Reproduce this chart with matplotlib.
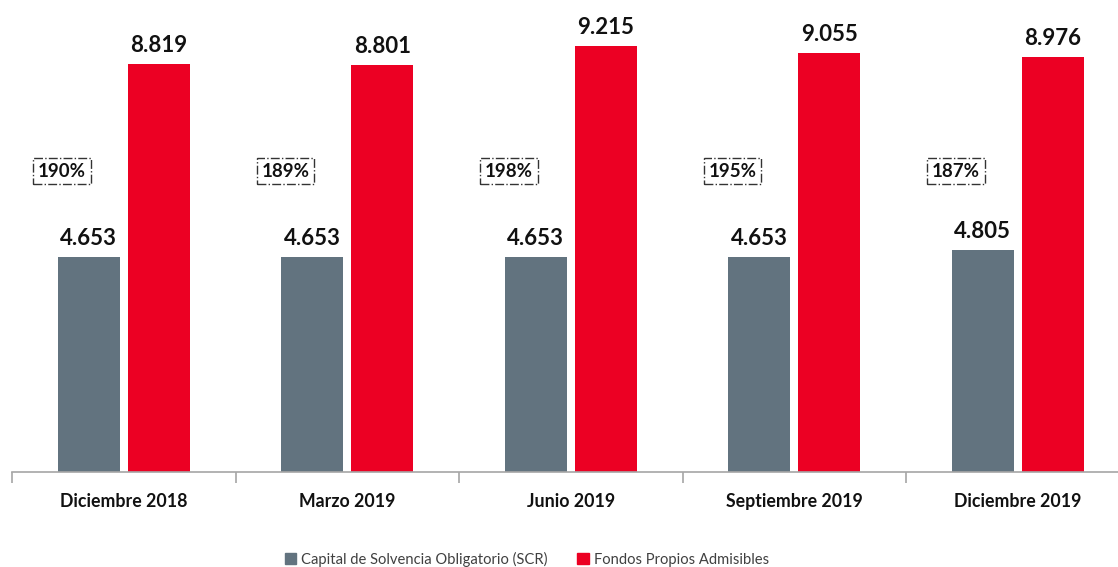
import matplotlib
matplotlib.use("Agg")
import matplotlib.pyplot as plt
import numpy as np
from matplotlib.patches import Patch

categories = ["Diciembre 2018", "Marzo 2019", "Junio 2019", "Septiembre 2019", "Diciembre 2019"]
scr = [4.653, 4.653, 4.653, 4.653, 4.805]
fondos = [8.819, 8.801, 9.215, 9.055, 8.976]
ratios = ["190%", "189%", "198%", "195%", "187%"]
series_names = ["Capital de Solvencia Obligatorio (SCR)", "Fondos Propios Admisibles"]

gray = "#62737F"
red = "#EC0023"

plt.rcParams['font.family'] = ['Lato', 'DejaVu Sans']

W, H = 1118, 567
fig = plt.figure(figsize=(W / 100, H / 100), dpi=100)
# axes: left at x=12, category width 223.5px, baseline at y=472, top at y=0
ax_left = 12 / W
ax_width = 5 * 223.5 / W
ax_bottom = (H - 472) / H
ax_height = 472 / H
ax = fig.add_axes([ax_left, ax_bottom, ax_width, ax_height])

x = np.arange(len(categories))
bw = 0.277
off = 0.157
ax.bar(x - off, scr, bw, color=gray, label=series_names[0])
ax.bar(x + off, fondos, bw, color=red, label=series_names[1])

for xi, v in zip(x, scr):
    ax.text(xi - off, v + 0.17, f"{v:.3f}", ha="center", va="bottom",
            fontsize=16, fontweight="bold", color="#111111")
for xi, v in zip(x, fondos):
    ax.text(xi + off, v + 0.17, f"{v:.3f}", ha="center", va="bottom",
            fontsize=16, fontweight="bold", color="#111111")
for xi, r in zip(x, ratios):
    ax.text(xi - 0.277, 6.5, r, ha="center", va="center",
            fontsize=13.5, fontweight="bold", color="#111111",
            bbox=dict(boxstyle="square,pad=0.25", facecolor="white",
                      edgecolor="#333333", linestyle="-.", linewidth=1.0))

ax.set_xlim(-0.5, len(categories) - 0.5)
ax.set_ylim(0, 10.2)
ax.set_yticks([])
for s in ["top", "right", "left"]:
    ax.spines[s].set_visible(False)
ax.spines["bottom"].set_color("#A6A6A6")
ax.spines["bottom"].set_linewidth(1.2)
ax.set_xticks(np.arange(len(categories) + 1) - 0.5, minor=False)
ax.set_xticklabels([])
ax.tick_params(axis="x", which="major", length=8, color="#A6A6A6", width=1.2, direction="out")
ax.set_xticks(x, minor=True)
ax.set_xticklabels(categories, minor=True, fontsize=12.8, fontweight="bold", color="#111111")
ax.tick_params(axis="x", which="minor", length=0, pad=15)

handles = [Patch(color=gray), Patch(color=red)]
fig.legend(handles, series_names, loc="center", bbox_to_anchor=(527 / W, 1 - 559 / H),
           ncol=2, frameon=False, fontsize=10.6, handlelength=0.8, handleheight=0.8,
           handletextpad=0.35, columnspacing=2.0, labelcolor="#404040")

fig.savefig("out.png", dpi=100)
